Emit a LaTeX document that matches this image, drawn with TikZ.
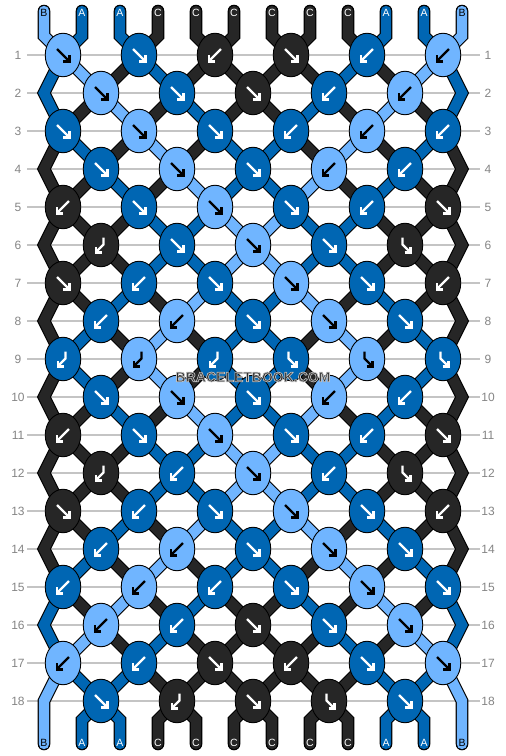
\documentclass[tikz,border=0pt]{standalone}
\usepackage{fontspec}
\setmainfont{Liberation Sans}
\usetikzlibrary{shapes.geometric}
\definecolor{colL}{HTML}{70B5FF}
\definecolor{colM}{HTML}{0066B3}
\definecolor{colD}{HTML}{262626}
\colorlet{arrL}{black}
\colorlet{arrM}{white}
\colorlet{arrD}{white}
\colorlet{labL}{black}
\colorlet{labM}{white}
\colorlet{labD}{white}
\definecolor{gridgray}{HTML}{C4C4C4}
\definecolor{rowgray}{HTML}{858585}
\definecolor{wmgray}{HTML}{2E2E2E}
\tikzset{
  gridline/.style={draw=gridgray, line width=1.3},
  rowlab/.style={text=rowgray, font=\fontsize{12}{12}\selectfont, inner sep=0pt},
  endlab/.style={text=lab#1, font=\fontsize{10.5}{10.5}\selectfont, inner sep=0pt},
  knot/.style={ellipse, draw=black, line width=0.9, fill=col#1, minimum width=35.5, minimum height=43.5, inner sep=0pt},
  arrw/.style={draw=#1, line width=2.4, line cap=butt, line join=miter},
  sout/.style={draw=black, line width=12.6, line cap=round, line join=miter},
  sin/.style={draw=col#1, line width=10.4, line cap=round, line join=miter},
  wm/.style={font=\fontsize{14}{14}\selectfont\bfseries, inner sep=0pt}
}
\newcommand\arrF[1]{\draw[arrw=#1] (-6,-6) -- (5.5,5.5); \draw[arrw=#1] (0,6.3) -- (6.3,6.3) -- (6.3,0);}
\newcommand\arrB[1]{\draw[arrw=#1] (6,-6) -- (-5.5,5.5); \draw[arrw=#1] (0,6.3) -- (-6.3,6.3) -- (-6.3,0);}
\newcommand\arrH[1]{\draw[arrw=#1] (2.5,-7.5) -- (2.5,-0.5) -- (-5,7); \draw[arrw=#1] (0.5,7.3) -- (-5.3,7.3) -- (-5.3,1.5);}
\newcommand\arrG[1]{\draw[arrw=#1] (-2.5,-7.5) -- (-2.5,-0.5) -- (5,7); \draw[arrw=#1] (-0.5,7.3) -- (5.3,7.3) -- (5.3,1.5);}
\newcommand\haloText[1]{\special{pdf:literal direct 2 Tr 0.7 w 0.75 0.75 0.75 RG 1 j}#1\special{pdf:literal direct 0 Tr}}
\newcommand\drawstrands[1]{%
  \foreach \c [count=\i] in {L,M,M,D,D,D,D,D,D,M,M,L}{\draw[#1=\c] (t-\i) -- (tm-\i) -- (p-1-\i);}
  \foreach \r/\cols in {
    1/{M,L,D,M,D,D,D,D,M,D,L,M},
    2/{M,D,L,D,M,D,D,M,D,L,D,M},
    3/{D,M,D,L,D,M,M,D,L,D,M,D},
    4/{D,D,M,D,L,M,M,L,D,M,D,D},
    5/{D,D,D,M,M,L,L,M,M,D,D,D},
    6/{D,D,D,M,M,L,L,M,M,D,D,D},
    7/{D,D,M,D,L,M,M,L,D,M,D,D},
    8/{D,M,D,L,D,M,M,D,L,D,M,D},
    9/{D,M,D,L,D,M,M,D,L,D,M,D},
    10/{D,D,M,D,L,M,M,L,D,M,D,D},
    11/{D,D,D,M,M,L,L,M,M,D,D,D},
    12/{D,D,D,M,M,L,L,M,M,D,D,D},
    13/{D,D,M,D,L,M,M,L,D,M,D,D},
    14/{D,M,D,L,D,M,M,D,L,D,M,D},
    15/{M,D,L,D,M,D,D,M,D,L,D,M},
    16/{M,L,D,M,D,D,D,D,M,D,L,M},
    17/{L,M,M,D,D,D,D,D,D,M,M,L}}{
    \foreach \c [count=\i] in \cols {
      \pgfmathtruncatemacro\isedge{(\i==1)+(\i==12)}
      \pgfmathtruncatemacro\rodd{mod(\r,2)}
      \pgfmathtruncatemacro\rnext{\r+1}
      \pgfmathtruncatemacro\rnn{\r+2}
      \ifnum\isedge=1
        \ifnum\rodd=1
          \ifnum\r=17
            \draw[#1=\c] (p-\r-\i) -- (p-\rnext-\i) -- (b-\i);
          \else
            \draw[#1=\c] (p-\r-\i) -- (p-\rnext-\i) -- (p-\rnn-\i);
          \fi
        \fi
      \else
        \draw[#1=\c] (p-\r-\i) -- (p-\rnext-\i);
      \fi
    }
  }
  \foreach \c [count=\i] in {M,M,D,D,D,D,D,D,M,M}{%
    \pgfmathtruncatemacro\ii{\i+1}
    \draw[#1=\c] (p-18-\ii) -- (bm-\ii) -- (b-\ii);}
}
\begin{document}
\begin{tikzpicture}[x=1pt,y=-1pt]
\useasboundingbox (0,0) rectangle (506,756);
\fill[white] (0,0) rectangle (506,756);
% grid lines and row labels
\foreach \r in {1,...,18}{
  \pgfmathsetmacro\yy{55+38*(\r-1)}
  \draw[gridline] (27,\yy) -- (480,\yy);
  \node[rowlab] (ll-\r) at (18,\yy) {\r};
  \node[rowlab] (rl-\r) at (488,\yy) {\r};
}
% strand coordinates
\foreach \i in {1,...,12}{
  \pgfmathsetmacro\xb{44+38*(\i-1)}
  \coordinate (t-\i) at (\xb,11);
  \coordinate (tm-\i) at (\xb,36);
  \coordinate (bm-\i) at (\xb,720);
  \coordinate (b-\i) at (\xb,744);
  \foreach \r in {1,...,18}{
    \pgfmathsetmacro\yy{55+38*(\r-1)}
    \pgfmathsetmacro\ee{(\i==1)+(\i==12)}
    \pgfmathsetmacro\oo{mod(\r,2)}
    \pgfmathsetmacro\xx{\xb+19*(\oo*(1-2*mod(\i+1,2))+(1-\oo)*(1-2*mod(\i,2))*(1-\ee))}
    \coordinate (p-\r-\i) at (\xx,\yy);
  }
}
% strands
\drawstrands{sout}
\drawstrands{sin}
% end labels
\foreach \c/\t [count=\i] in {L/B,M/A,M/A,D/C,D/C,D/C,D/C,D/C,D/C,M/A,M/A,L/B}{
  \pgfmathsetmacro\xb{44+38*(\i-1)}
  \node[endlab=\c] (tl-\i) at (\xb,13) {\t};
  \node[endlab=\c] (bl-\i) at (\xb,743) {\t};
}
% knots
\foreach \r/\ks in {
  1/{F/L,F/M,B/D,F/D,B/M,B/L},
  2/{F/L,F/M,F/D,B/M,B/L},
  3/{F/M,F/L,F/M,B/M,B/L,B/M},
  4/{F/M,F/L,F/M,B/L,B/M},
  5/{B/D,F/M,F/L,F/M,B/M,F/D},
  6/{H/D,F/M,F/L,F/M,G/D},
  7/{F/D,B/M,F/M,F/L,F/M,B/D},
  8/{B/M,B/L,F/M,F/L,F/M},
  9/{H/M,H/L,H/M,G/M,G/L,G/M},
  10/{F/M,F/L,F/M,B/L,B/M},
  11/{B/D,F/M,F/L,F/M,B/M,F/D},
  12/{H/D,B/M,F/L,B/M,G/D},
  13/{F/D,B/M,F/M,F/L,F/M,B/D},
  14/{B/M,B/L,F/M,F/L,F/M},
  15/{B/M,B/L,B/M,F/M,F/L,F/M},
  16/{B/L,B/M,F/D,F/M,F/L},
  17/{B/L,B/M,F/D,B/D,F/M,F/L},
  18/{F/M,H/D,F/D,G/D,F/M}}{
  \pgfmathsetmacro\yy{55+38*(\r-1)}
  \pgfmathsetmacro\oo{mod(\r,2)}
  \foreach \t/\c [count=\k] in \ks {
    \pgfmathsetmacro\xx{101-38*\oo+76*(\k-1)}
    \node[knot=\c] (k-\r-\k) at (\xx,\yy) {};
    \begin{scope}[shift={(k-\r-\k)}]
      \csname arr\t\endcsname{arr\c}
    \end{scope}
  }
}
% watermark
\node[wm, text=wmgray] (wmk) at (253,377) {\haloText{BRACELETBOOK.COM}};
\end{tikzpicture}
\end{document}
